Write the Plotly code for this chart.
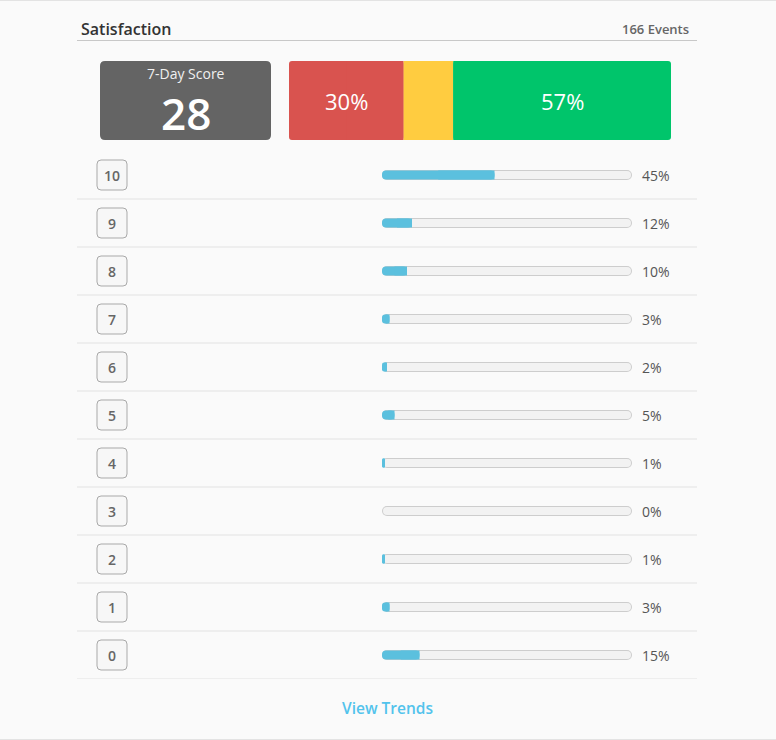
import plotly.graph_objects as go

# data
scores = ["10", "9", "8", "7", "6", "5", "4", "3", "2", "1", "0"]
shares = [45, 12, 10, 3, 2, 5, 1, 0, 1, 3, 15]
groups = ["Detractors", "Passives", "Promoters"]
group_shares = [30, 13, 57]
group_labels = ["30%", "", "57%"]
group_colors = ["#d9534f", "#ffcc40", "#00c56b"]
nps_score = 28
event_count = 166

W, H = 776, 740
FONT = "Open Sans"


def px_x(v):
    return v / W


def px_y(v):
    return 1 - v / H


def rounded_path(hw, hh, r):
    # rounded rectangle centred on the anchor, in pixels
    return (f"M {-hw + r},{-hh} H {hw - r} Q {hw},{-hh} {hw},{-hh + r} "
            f"V {hh - r} Q {hw},{hh} {hw - r},{hh} H {-hw + r} "
            f"Q {-hw},{hh} {-hw},{hh - r} V {-hh + r} Q {-hw},{-hh} {-hw + r},{-hh} Z")


def add_bar(fig, y, start, size, width, color, rad, xaxis, yaxis, square=None):
    # bars with a base get every corner rounded; 'square' puts a plain
    # bar over the inner half so only the outer end stays rounded
    fig.add_trace(go.Bar(
        y=y, x=size, base=start, orientation="h", width=width,
        marker=dict(color=color, line=dict(width=0), cornerradius=rad),
        hoverinfo="skip", showlegend=False, xaxis=xaxis, yaxis=yaxis))
    if square == "right":
        fig.add_trace(go.Bar(
            y=y, x=[s / 2 for s in size], base=[b + s / 2 for b, s in zip(start, size)],
            orientation="h", width=width, marker=dict(color=color, line=dict(width=0)),
            hoverinfo="skip", showlegend=False, xaxis=xaxis, yaxis=yaxis))
    elif square == "left":
        fig.add_trace(go.Bar(
            y=y, x=[s / 2 for s in size], base=start,
            orientation="h", width=width, marker=dict(color=color, line=dict(width=0)),
            hoverinfo="skip", showlegend=False, xaxis=xaxis, yaxis=yaxis))


fig = go.Figure()

n = len(scores)
# progress tracks (border + fill) and the blue share
add_bar(fig, scores, [0] * n, [100] * n, 10 / 48, "#cdcdcd", 5, "x", "y")
add_bar(fig, scores, [0.4] * n, [99.2] * n, 8 / 48, "#f2f2f2", 4, "x", "y")
add_bar(fig, scores, [0] * n, shares, 9 / 48, "#5bc0de", 4, "x", "y", square="right")

# stacked detractor / passive / promoter bar
starts = [sum(group_shares[:i]) for i in range(len(group_shares))]
for i, (s, st, c) in enumerate(zip(group_shares, starts, group_colors)):
    if i == 0:
        add_bar(fig, ["nps"], [st], [s], 1, c, 3, "x2", "y2", square="right")
    elif i == len(group_shares) - 1:
        add_bar(fig, ["nps"], [st], [s], 1, c, 3, "x2", "y2", square="left")
    else:
        add_bar(fig, ["nps"], [st], [s], 1, c, 0, "x2", "y2")

shapes = []
annotations = []


def label(text, x, y, size, color, weight=400, xref="paper", yref="paper", xanchor="center", xshift=0):
    annotations.append(dict(xref=xref, yref=yref, x=x, y=y, text=text, showarrow=False,
                            xanchor=xanchor, yanchor="middle", xshift=xshift,
                            font=dict(family=FONT, size=size, color=color, weight=weight)))


# frame lines
for yy in (0.5, H - 0.5):
    shapes.append(dict(type="line", xref="paper", yref="paper", x0=0, x1=1,
                       y0=px_y(yy), y1=px_y(yy), line=dict(color="#e3e3e3", width=1)))
shapes.append(dict(type="line", xref="paper", yref="paper", x0=px_x(77), x1=px_x(697),
                   y0=px_y(40.5), y1=px_y(40.5), line=dict(color="#c8c8c8", width=1)))

# score card
shapes.append(dict(type="path", xref="paper", yref="paper", xsizemode="pixel", ysizemode="pixel",
                   xanchor=px_x(185.5), yanchor=px_y(100.5), path=rounded_path(85.5, 39.5, 5),
                   fillcolor="#646464", line=dict(width=0)))
label("7-Day Score", px_x(185.5), px_y(74), 14, "#f0f0f0")
label(str(nps_score), px_x(185.5), px_y(113), 44, "#ffffff", weight=600)

# labels in the stacked bar
for s, st, lab in zip(group_shares, starts, group_labels):
    if lab:
        label(lab, st + s / 2, 0, 22, "#ffffff", xref="x2", yref="y2")

# rows
for i, (sc, v) in enumerate(zip(scores, shares)):
    shapes.append(dict(type="line", xref="paper", yref="y", x0=px_x(77), x1=px_x(697),
                       y0=i + 0.5, y1=i + 0.5, line=dict(color="#e2e2e2", width=1)))
    shapes.append(dict(type="path", xref="paper", yref="y", xsizemode="pixel", ysizemode="pixel",
                       xanchor=px_x(112), yanchor=i, path=rounded_path(15, 15, 4),
                       fillcolor="#f7f7f7", line=dict(color="#a9a9a9", width=1)))
    label(sc, px_x(112), i, 14, "#666666", weight=600, yref="y")
    label(f"{v}%", 100, i, 14, "#555555", xref="x", yref="y", xanchor="left", xshift=8)

# header and footer
label("Satisfaction", px_x(79), px_y(29), 16, "#333333", weight=600, xanchor="left")
label(f"{event_count} Events", px_x(691), px_y(29), 13, "#666666", weight=600, xanchor="right")
label("View Trends", px_x(387), px_y(708), 15.5, "#52c3ec", weight=600)

hidden = dict(visible=False, showgrid=False, zeroline=False, fixedrange=True)
fig.update_layout(
    width=W, height=H,
    margin=dict(l=0, r=0, t=0, b=0),
    paper_bgcolor="#fafafa", plot_bgcolor="rgba(0,0,0,0)",
    barmode="overlay",
    xaxis=dict(domain=[px_x(382), px_x(632)], range=[0, 100], anchor="y", **hidden),
    yaxis=dict(domain=[px_y(679), px_y(151)], type="category", categoryorder="array",
               categoryarray=scores, range=[n - 0.5, -0.5], anchor="x", **hidden),
    xaxis2=dict(domain=[px_x(289), px_x(671)], range=[0, 100], anchor="y2", **hidden),
    yaxis2=dict(domain=[px_y(140), px_y(61)], type="category", range=[-0.5, 0.5],
                anchor="x2", **hidden),
    shapes=shapes,
    annotations=annotations,
    showlegend=False,
)

fig.write_html("out.html", config={"displayModeBar": False},
               post_script="document.body.style.margin = '0';")
